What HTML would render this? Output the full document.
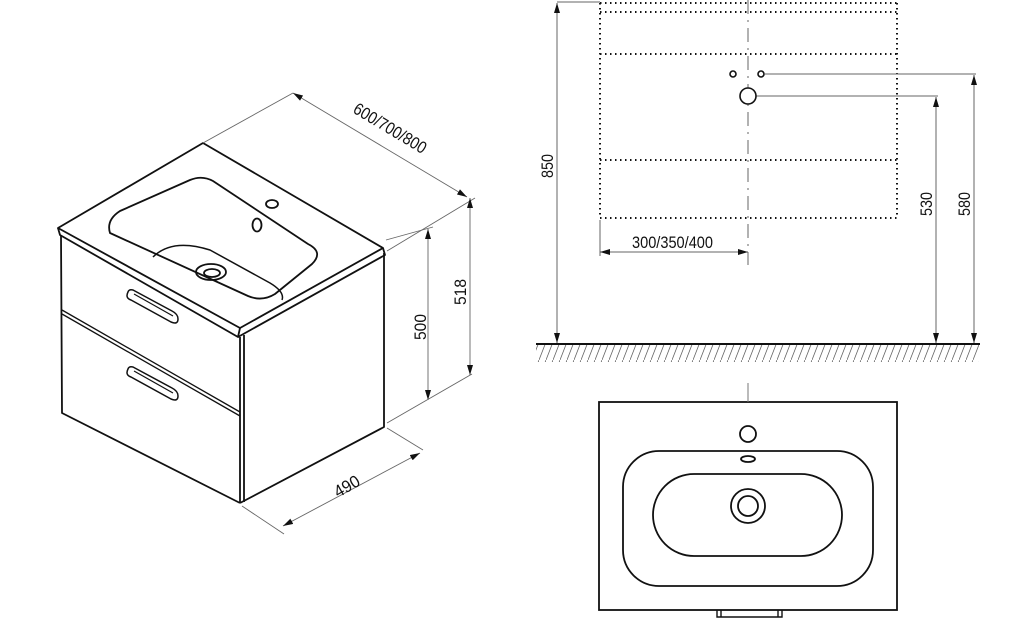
<!DOCTYPE html>
<html><head><meta charset="utf-8"><style>
html,body{margin:0;padding:0;background:#fff;}
svg{display:block;}
text{font-family:"Liberation Sans Narrow","Liberation Sans",Arial,sans-serif;font-size:17px;fill:#111;}
</style></head><body>
<svg width="1024" height="621" viewBox="0 0 1024 621" xmlns="http://www.w3.org/2000/svg">
<defs>
<marker id="a" viewBox="0 0 10 6" refX="10" refY="3" markerWidth="10" markerHeight="6" orient="auto-start-reverse" markerUnits="userSpaceOnUse"><path d="M0,0 L10,3 L0,6 z" fill="#111"/></marker>
<pattern id="h" width="7" height="18" patternUnits="userSpaceOnUse"><line x1="0" y1="18" x2="7" y2="0" stroke="#666" stroke-width="0.8"/></pattern>
</defs>
<g fill="none" stroke="#111" stroke-width="1.8" stroke-linejoin="round">
<path d="M58,228 L203,143 L383,248 L240,328 Z"/>
<path d="M58,228 L60,235 L238,337 L240,328"/>
<path d="M238,337 L385,255 L383,248"/>
<path d="M61,235 L62,413 L240,503"/>
<path d="M240,337 L240,503 M244,335 L244,502"/>
<path d="M240,503 L384,427 L384,253"/>
<path d="M62,310 L240,412 M62,314 L240,416" stroke-width="1.3"/>
<path d="M120,211 Q106,220 110,233 L248,296 Q262,302 275,294 L312,264 Q324,252 308,244 L213,181 Q202,175 190,180 Z"/>
<path d="M153,257 Q172,238 210,250 L270,283 Q285,292 282,300" stroke-width="1.5"/>
<ellipse cx="211" cy="272" rx="15" ry="8"/>
<ellipse cx="212" cy="273" rx="8" ry="4"/>
<ellipse cx="257" cy="225" rx="4.5" ry="6.5"/>
<ellipse cx="272" cy="204" rx="6" ry="4"/>
<path d="M128,292 Q125,298 131,300 L171,322 Q178,325 178,319 Q178,314 172,311 L133,290 Q129,289 128,292 Z" stroke-width="1.5"/>
<path d="M134,294 L173,316" stroke-width="1.2"/>
<path d="M128,369 Q125,375 131,377 L171,399 Q178,402 178,396 Q178,391 172,388 L133,367 Q129,366 128,369 Z" stroke-width="1.5"/>
<path d="M134,371 L173,393" stroke-width="1.2"/>
</g>
<g stroke="#666" stroke-width="0.9" fill="none">
<line x1="203" y1="143" x2="293" y2="93"/>
<line x1="387" y1="251" x2="475" y2="198"/>
<line x1="293" y1="93" x2="467" y2="197" marker-start="url(#a)" marker-end="url(#a)"/>
<line x1="386" y1="240" x2="433" y2="227"/>
<line x1="428" y1="229" x2="428" y2="400" marker-start="url(#a)" marker-end="url(#a)"/>
<line x1="470" y1="198" x2="470" y2="375" marker-start="url(#a)" marker-end="url(#a)"/>
<line x1="387" y1="423" x2="472" y2="374"/>
<line x1="387" y1="428" x2="423" y2="450"/>
<line x1="242" y1="506" x2="284" y2="534"/>
<line x1="283" y1="526" x2="420" y2="453" marker-start="url(#a)" marker-end="url(#a)"/>
</g>
<text transform="translate(352,112) rotate(31)" textLength="82" lengthAdjust="spacingAndGlyphs">600/700/800</text>
<text transform="translate(466,305) rotate(-90)" textLength="26" lengthAdjust="spacingAndGlyphs">518</text>
<text transform="translate(426,340) rotate(-90)" textLength="26" lengthAdjust="spacingAndGlyphs">500</text>
<text transform="translate(338,498) rotate(-30)" textLength="27" lengthAdjust="spacingAndGlyphs">490</text>

<g stroke="#111" stroke-width="2" stroke-dasharray="1.5 3.5" fill="none">
<line x1="600" y1="3" x2="897" y2="3"/>
<line x1="600" y1="12" x2="897" y2="12"/>
<line x1="600" y1="54" x2="897" y2="54"/>
<line x1="600" y1="160" x2="897" y2="160"/>
<line x1="600" y1="218" x2="897" y2="218"/>
<line x1="600" y1="3" x2="600" y2="218"/>
<line x1="897" y1="3" x2="897" y2="218"/>
</g>
<g stroke="#666" stroke-width="1" fill="none">
<line x1="748" y1="0" x2="748" y2="265" stroke-dasharray="14 6 2 6"/>
<line x1="557" y1="2" x2="600" y2="2"/>
<line x1="557" y1="3" x2="557" y2="343" marker-start="url(#a)" marker-end="url(#a)"/>
<line x1="765" y1="74" x2="976" y2="74"/>
<line x1="756" y1="96" x2="938" y2="96"/>
<line x1="936" y1="97" x2="936" y2="343" marker-start="url(#a)" marker-end="url(#a)"/>
<line x1="974" y1="75" x2="974" y2="343" marker-start="url(#a)" marker-end="url(#a)"/>
<line x1="600" y1="220" x2="600" y2="256"/>
<line x1="600" y1="252" x2="748" y2="252" marker-start="url(#a)" marker-end="url(#a)"/>
</g>
<g stroke="#111" stroke-width="1.6" fill="#fff">
<circle cx="733" cy="74" r="3"/>
<circle cx="761" cy="74" r="3"/>
<circle cx="748" cy="96" r="8"/>
</g>
<text transform="translate(553,178) rotate(-90)" textLength="24" lengthAdjust="spacingAndGlyphs">850</text>
<text transform="translate(932,216) rotate(-90)" textLength="24" lengthAdjust="spacingAndGlyphs">530</text>
<text transform="translate(970,216) rotate(-90)" textLength="24" lengthAdjust="spacingAndGlyphs">580</text>
<text x="632" y="248" textLength="81" lengthAdjust="spacingAndGlyphs">300/350/400</text>
<rect x="536" y="345" width="443" height="17" fill="url(#h)"/>
<line x1="536" y1="344" x2="980" y2="344" stroke="#111" stroke-width="2"/>

<g fill="none" stroke="#111" stroke-width="1.8">
<rect x="599" y="402" width="298" height="208"/>
<rect x="623" y="451" width="250" height="135" rx="36" ry="36"/>
<rect x="653" y="474" width="189" height="82" rx="41" ry="41"/>
<circle cx="748" cy="506" r="17"/>
<circle cx="748" cy="506" r="10"/>
<circle cx="748" cy="434" r="8"/>
<ellipse cx="748" cy="459" rx="7" ry="3"/>
<path d="M717,610 L717,617 L782,617 L782,610 M721,610 L721,617 M778,610 L778,617" stroke-width="1.4"/>
</g>
<line x1="748" y1="383" x2="748" y2="402" stroke="#777" stroke-width="1"/>
</svg>
</body></html>
